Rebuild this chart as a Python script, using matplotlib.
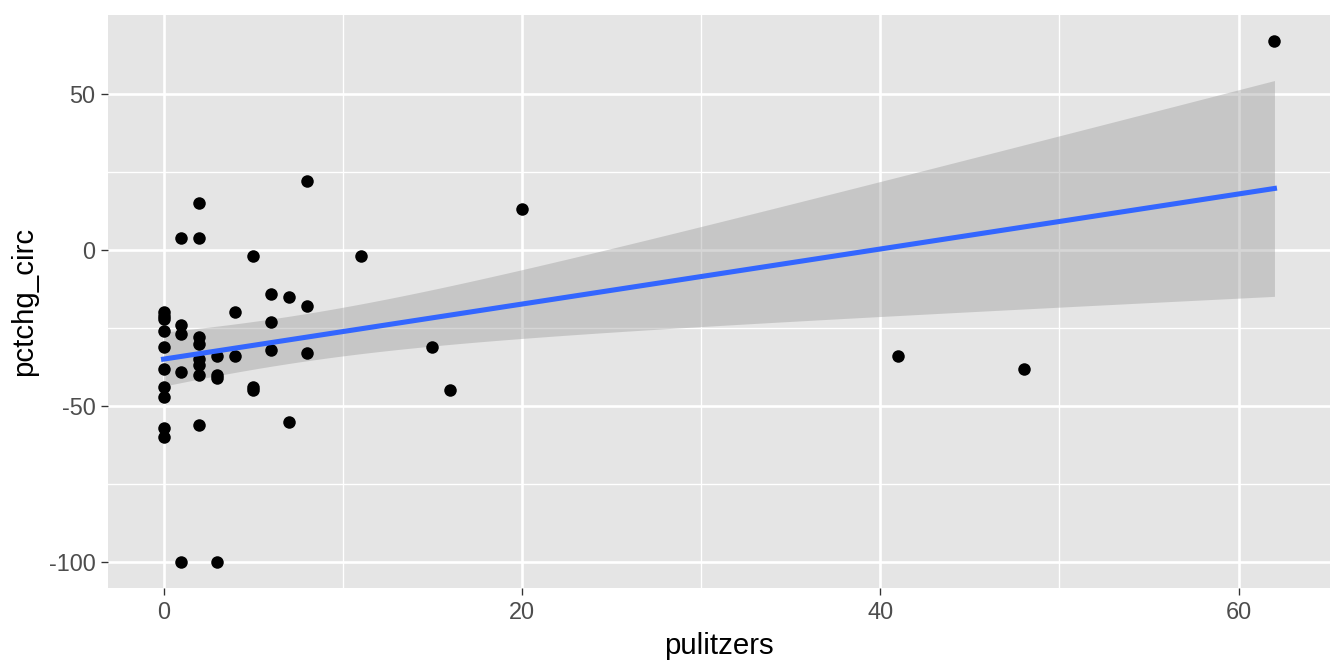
import numpy as np
import matplotlib
matplotlib.use("Agg")
from matplotlib import pyplot as plt

# values
pulitzers = [0, 0, 0, 0, 0, 0, 0, 0, 0, 0,
             1, 1, 1, 1, 1,
             2, 2, 2, 2, 2, 2, 2, 2,
             3, 3, 3, 3,
             4, 4,
             5, 5, 5,
             6, 6, 6,
             7, 7,
             8, 8, 8,
             11, 15, 16, 20, 41, 48, 62]
pctchg_circ = [-20, -21, -22, -26, -31, -38, -44, -47, -57, -60,
               4, -24, -27, -39, -100,
               15, 4, -28, -30, -35, -37, -40, -56,
               -34, -40, -41, -100,
               -20, -34,
               -2, -44, -45,
               -14, -23, -32,
               -15, -55,
               22, -18, -33,
               -2, -31, -45, 13, -34, -38, 67]

x = np.array(pulitzers, dtype=float)
y = np.array(pctchg_circ, dtype=float)

# linear fit with 95% band, like geom_smooth(method = "lm")
n = len(x)
slope, intercept = np.polyfit(x, y, 1)
resid = y - (intercept + slope * x)
s = np.sqrt(np.sum(resid ** 2) / (n - 2))
t_crit = 2.014  # t quantile 0.975, df = 45
xs = np.linspace(x.min(), x.max(), 200)
ys = intercept + slope * xs
se = s * np.sqrt(1 / n + (xs - x.mean()) ** 2 / np.sum((x - x.mean()) ** 2))

plt.rcParams['font.family'] = ['Liberation Sans', 'DejaVu Sans']
plt.rcParams['axes.unicode_minus'] = False

fig = plt.figure(figsize=(7, 3.5), dpi=192)
ax = fig.add_axes([108 / 1344, 1 - 588 / 672, (1330 - 108) / 1344, (588 - 15) / 672])
ax.set_facecolor('#E5E5E5')

ax.fill_between(xs, ys - t_crit * se, ys + t_crit * se, color='#999999', alpha=0.4, linewidth=0, zorder=2)
ax.scatter(x, y, s=22, color='black', linewidths=0, zorder=3)
ax.plot(xs, ys, color='#3366FF', linewidth=1.9, zorder=4)

xr = x.max() - x.min()
yr = y.max() - y.min()
ax.set_xlim(x.min() - 0.05 * xr, x.max() + 0.05 * xr)
ax.set_ylim(y.min() - 0.05 * yr, y.max() + 0.05 * yr)

ax.set_xticks([0, 20, 40, 60])
ax.set_xticks([10, 30, 50], minor=True)
ax.set_yticks([-100, -50, 0, 50])
ax.set_yticks([-75, -25, 25], minor=True)
ax.grid(which='major', color='white', linewidth=1.0, zorder=0)
ax.grid(which='minor', color='white', linewidth=0.5, zorder=0)
ax.set_axisbelow(True)

for sp in ax.spines.values():
    sp.set_visible(False)
ax.tick_params(which='major', length=2.7, color='#333333', width=0.5,
               labelsize=8.8, labelcolor='#4D4D4D', pad=2)
ax.tick_params(which='minor', length=0)

ax.set_xlabel('pulitzers', fontsize=11, labelpad=3)
ax.set_ylabel('pctchg_circ', fontsize=11, labelpad=4)

fig.savefig('out.png', dpi=192)
